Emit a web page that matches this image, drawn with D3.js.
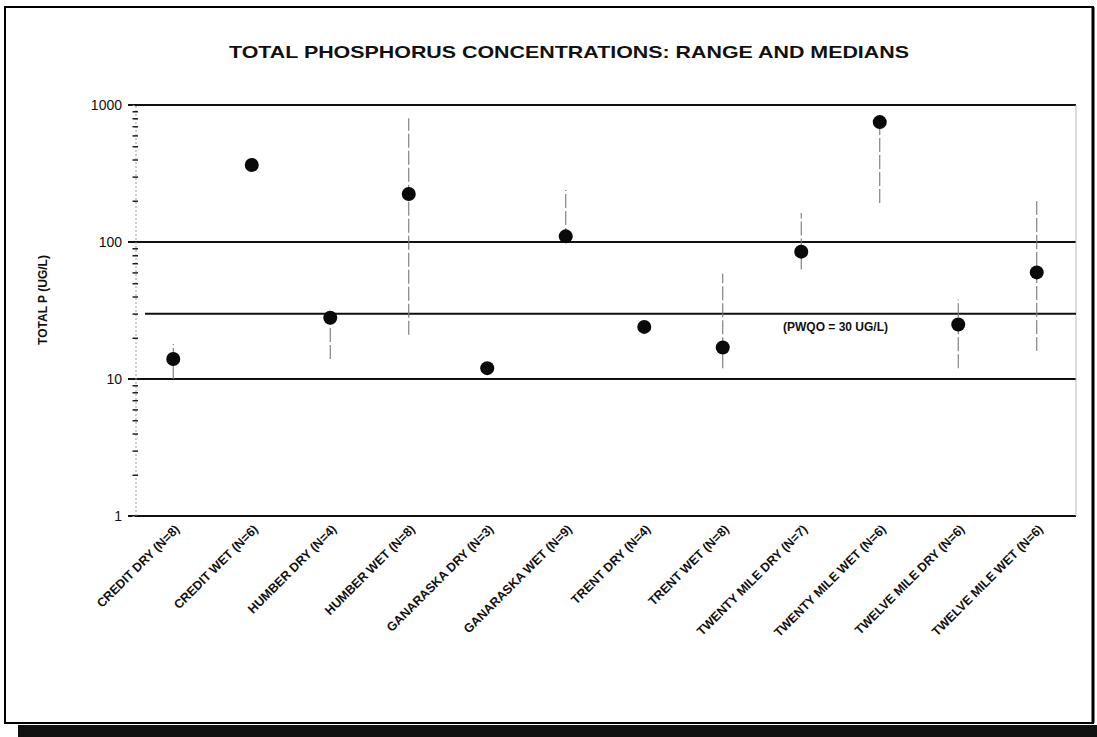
<!DOCTYPE html>
<html>
<head>
<meta charset="utf-8">
<script src="https://cdn.jsdelivr.net/npm/d3@7"></script>
<style>
  body { margin: 0; background: #fff; }
  text { font-family: "Liberation Sans", Arial, sans-serif; fill: #111; }
</style>
</head>
<body>
<svg width="1097" height="737"></svg>
<script>
// data
var categories = ["CREDIT DRY (N=8)", "CREDIT WET (N=6)", "HUMBER DRY (N=4)", "HUMBER WET (N=8)",
    "GANARASKA DRY (N=3)", "GANARASKA WET (N=9)", "TRENT DRY (N=4)", "TRENT WET (N=8)",
    "TWENTY MILE DRY (N=7)", "TWENTY MILE WET (N=6)", "TWELVE MILE DRY (N=6)", "TWELVE MILE WET (N=6)"];
var medians = [14, 365, 28, 224, 12, 110, 24, 17, 85, 750, 25, 60];
var mins = [10, 330, 14, 21, 11, 100, 22, 12, 63, 193, 12, 16];
var maxs = [18, 400, 30, 800, 13, 240, 26, 59, 163, 760, 38, 203];
var yTicks = [1, 10, 100, 1000];
var pwqo = 30;

var svg = d3.select("svg");
var plot = { left: 134, right: 1076, top: 105, bottom: 516 };

// outer frame of the page + black scan band
svg.append("rect")
    .attr("x", 5).attr("y", 7).attr("width", 1088).attr("height", 716)
    .attr("fill", "none").attr("stroke", "#000").attr("stroke-width", 2);
svg.append("line")
    .attr("x1", 1093).attr("x2", 1093).attr("y1", 7).attr("y2", 723)
    .attr("stroke", "#000").attr("stroke-width", 3);
svg.append("rect")
    .attr("x", 18).attr("y", 725).attr("width", 1079).attr("height", 12)
    .attr("fill", "#111");

// scales
var x = d3.scaleBand().domain(categories).range([plot.left, plot.right]);
var y = d3.scaleLog().domain([1, 1000]).range([plot.bottom, plot.top]);

// title
svg.append("text")
    .attr("x", 569).attr("y", 58)
    .attr("text-anchor", "middle")
    .attr("font-size", 17).attr("font-weight", "bold")
    .attr("textLength", 680).attr("lengthAdjust", "spacingAndGlyphs")
    .text("TOTAL PHOSPHORUS CONCENTRATIONS: RANGE AND MEDIANS");

// y axis title
svg.append("text")
    .attr("transform", "translate(47,300) rotate(-90)")
    .attr("text-anchor", "middle")
    .attr("font-size", 12).attr("font-weight", "bold")
    .text("TOTAL P (UG/L)");

// major gridlines
svg.append("g").selectAll("line")
    .data(yTicks)
    .enter()
    .append("line")
    .attr("x1", plot.left - 6).attr("x2", plot.right)
    .attr("y1", function (d) { return y(d); })
    .attr("y2", function (d) { return y(d); })
    .attr("stroke", "#111").attr("stroke-width", 2);

// right edge (faint in the scan)
svg.append("line")
    .attr("x1", plot.right).attr("x2", plot.right)
    .attr("y1", plot.top).attr("y2", plot.bottom)
    .attr("stroke", "#bbb").attr("stroke-width", 1);

// y axis with minor ticks
var minor = [];
for (var dec = 1; dec < 1000; dec *= 10) {
    for (var k = 2; k <= 9; k++) minor.push(dec * k);
}
var yAxisMinor = d3.axisLeft(y).tickValues(minor).tickSize(3).tickFormat("");
var gMinor = svg.append("g").attr("transform", "translate(" + (plot.left + 1.5) + ",0)").call(yAxisMinor);
gMinor.select(".domain").attr("stroke", "#999").attr("stroke-dasharray", "2,2");
gMinor.selectAll(".tick line").attr("stroke", "#222").attr("stroke-width", 1.5)
    .attr("x1", 2.5);

var yAxis = d3.axisLeft(y).tickValues(yTicks).tickSize(0).tickPadding(12)
    .tickFormat(d3.format("d"));
var gAxis = svg.append("g").attr("transform", "translate(" + plot.left + ",0)").call(yAxis);
gAxis.select(".domain").remove();
gAxis.selectAll("text")
    .attr("font-size", 14)
    .style("font-family", "'Liberation Sans', Arial, sans-serif")
    .attr("fill", "#111");

// PWQO guideline
svg.append("line")
    .attr("x1", plot.left + 11).attr("x2", plot.right)
    .attr("y1", y(pwqo)).attr("y2", y(pwqo))
    .attr("stroke", "#111").attr("stroke-width", 2);
svg.append("text")
    .attr("x", 783).attr("y", y(pwqo) + 17)
    .attr("font-size", 12).attr("font-weight", "bold")
    .text("(PWQO = " + pwqo + " UG/L)");

// range whiskers
svg.append("g").selectAll("line")
    .data(categories)
    .enter()
    .append("line")
    .attr("x1", function (d) { return x(d) + x.bandwidth() / 2; })
    .attr("x2", function (d) { return x(d) + x.bandwidth() / 2; })
    .attr("y1", function (d, i) { return y(mins[i]); })
    .attr("y2", function (d, i) { return y(maxs[i]); })
    .attr("stroke", "#777").attr("stroke-width", 1.1)
    .attr("stroke-dasharray", "14,3");

// medians
svg.append("g").selectAll("circle")
    .data(categories)
    .enter()
    .append("circle")
    .attr("cx", function (d) { return x(d) + x.bandwidth() / 2; })
    .attr("cy", function (d, i) { return y(medians[i]); })
    .attr("r", 7)
    .attr("fill", "#0a0a0a");

// category labels
var xAxis = d3.axisBottom(x).tickSize(0).tickPadding(0);
var gx = svg.append("g").attr("transform", "translate(0," + plot.bottom + ")").call(xAxis);
gx.select(".domain").remove();
gx.selectAll("text")
    .style("font-family", "'Liberation Sans', Arial, sans-serif")
    .attr("font-size", 12.5).attr("font-weight", "bold")
    .attr("fill", "#111")
    .attr("text-anchor", "end")
    .attr("dy", null).attr("y", null)
    .attr("transform", "translate(7,14) rotate(-45)");
</script>
</body>
</html>
